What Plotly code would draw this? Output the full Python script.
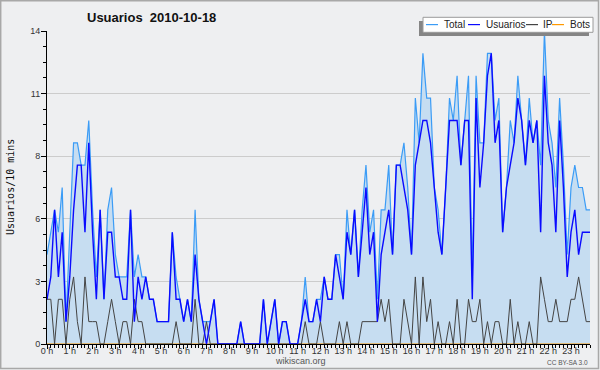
import plotly.graph_objects as go

# ---- data (10-minute slots, 0h00 .. 23h50) ----
usuarios = [2,3,6,3,5,1,3,6,8,8,
            5,9,5,2,6,2,5,5,3,3,
            2,2,6,1,3,2,3,2,2,1,
            1,1,1,5,2,2,1,2,1,4,
            2,1,0,1,2,0,0,0,0,0,
            0,1,0,0,0,0,0,2,0,1,
            2,0,1,1,0,0,0,1,2,1,
            1,2,1,3,2,2,4,3,2,5,
            4,6,3,5,7,4,5,1,4,5,
            6,4,8,8,7,6,4,8,9,10,
            10,9,7,5,4,7,10,10,10,8,
            10,10,2,11,7,9,12,13,9,10,
            5,7,8,9,11,10,8,10,9,10,
            5,12,9,8,5,10,7,3,5,6,
            4,5,5,5]
ip = [2,2,0,2,2,0,2,3,1,0,
      3,1,1,1,0,0,1,2,1,0,
      1,1,0,2,1,1,0,0,0,0,
      0,0,0,0,1,0,0,0,0,2,
      0,0,1,0,0,0,0,0,0,0,
      0,0,0,0,0,0,0,0,0,0,
      0,0,0,0,0,0,0,0,1,0,
      0,0,1,0,0,0,0,1,0,1,
      0,0,0,1,1,1,1,1,2,1,
      2,0,0,0,2,1,0,3,0,3,
      1,2,0,1,0,0,1,0,2,0,
      0,2,1,1,2,0,1,0,1,1,
      0,0,2,0,1,0,0,1,0,0,
      3,2,1,1,2,1,1,1,2,2,
      3,2,1,1]
total = [4,5,6,5,7,1,5,9,9,8,
         8,10,6,3,6,2,6,7,4,3,
         3,3,6,3,4,3,3,2,2,1,
         1,1,1,5,3,2,1,2,1,6,
         2,1,1,1,2,0,0,0,0,0,
         0,1,0,0,0,0,0,2,0,1,
         2,0,1,1,0,0,0,1,3,1,
         1,2,2,3,2,2,4,4,2,6,
         4,6,3,6,8,5,6,2,6,6,
         8,4,8,8,9,7,4,11,9,13,
         11,11,7,6,4,7,11,10,12,8,
         10,12,3,12,9,9,13,13,10,11,
         5,7,10,9,12,10,8,11,9,10,
         8,14,10,9,7,11,8,4,7,8,
         7,7,6,6]
bots = [0] * 144
slots = list(range(144))

hour_labels = [f"{h} h" for h in range(24)]
hour_slots = [h * 6 for h in range(24)]
y_tickvals = [0, 2.8, 5.6, 8.4, 11.2, 14]
y_ticktext = ["0", "3", "6", "8", "11", "14"]
legend_names = ["Total", "Usuarios", "IP", "Bots"]

C_TOTAL = "#3b9cf6"
C_FILL = "#c6ddf1"
C_USR = "#0a0aff"
C_IP = "#444444"
C_BOTS = "#ff9900"
BG = "#eeeff1"

W, H = 600, 370
L, R, T, B = 47, 10, 31, 26
PW, PH = W - L - R, H - T - B


def px(x):
    return (x - L) / PW


def py(y):
    return (H - B - y) / PH


fig = go.Figure()
fig.add_trace(go.Scatter(x=slots, y=total, mode="lines", name="Total",
                         line=dict(color=C_TOTAL, width=1.2),
                         fill="tozeroy", fillcolor=C_FILL, showlegend=False))
fig.add_trace(go.Scatter(x=slots, y=bots, mode="lines", name="Bots",
                         line=dict(color=C_BOTS, width=1), showlegend=False))
fig.add_trace(go.Scatter(x=slots, y=ip, mode="lines", name="IP",
                         line=dict(color=C_IP, width=1), showlegend=False))
fig.add_trace(go.Scatter(x=slots, y=usuarios, mode="lines", name="Usuarios",
                         line=dict(color=C_USR, width=1.4), showlegend=False))

tickfont = dict(family="Liberation Sans", size=9, color="#333333")
fig.update_xaxes(range=[0, 143], showgrid=False, zeroline=False,
                 showline=True, linecolor="black", linewidth=1,
                 ticks="outside", ticklen=4, tickcolor="black",
                 tickvals=hour_slots, ticktext=hour_labels, tickfont=tickfont,
                 ticklabelstandoff=-6,
                 minor=dict(dtick=1, tick0=0, ticks="outside", ticklen=3,
                            tickcolor="black", showgrid=False))
fig.update_yaxes(range=[0, 14], showgrid=True, gridcolor="#cccccc", gridwidth=1,
                 zeroline=False, showline=True, linecolor="black", linewidth=1,
                 ticks="outside", ticklen=5, tickcolor="black",
                 tickvals=y_tickvals, ticktext=y_ticktext, tickfont=tickfont,
                 ticklabelstandoff=-1,
                 minor=dict(dtick=0.7, tick0=0, ticks="outside", ticklen=3,
                            tickcolor="black", showgrid=False))

shapes = [
    # outer frame
    dict(type="rect", xref="paper", yref="paper", x0=px(0.7), x1=px(598.5),
         y0=py(368.5), y1=py(0.7), line=dict(color="#a8a8a8", width=1.5),
         layer="above"),
    # legend shadow + box
    dict(type="rect", xref="paper", yref="paper", x0=px(419), x1=px(589),
         y0=py(36), y1=py(21), fillcolor="#858585", line=dict(width=0),
         layer="above"),
    dict(type="rect", xref="paper", yref="paper", x0=px(423), x1=px(593),
         y0=py(32.3), y1=py(17.3), fillcolor="white",
         line=dict(color="#9a9a9a", width=1), layer="above"),
]
legend_colors = [C_TOTAL, C_USR, C_IP, C_BOTS]
legend_line_x = [(426, 438), (468, 480), (526, 538), (552, 564)]
legend_text_x = [442, 484, 541, 568]
annotations = []
for name, col, (a, b), tx in zip(legend_names, legend_colors, legend_line_x, legend_text_x):
    shapes.append(dict(type="line", xref="paper", yref="paper", x0=px(a), x1=px(b),
                       y0=py(24.6), y1=py(24.6), line=dict(color=col, width=1.2),
                       layer="above"))
    annotations.append(dict(xref="paper", yref="paper", x=px(tx), y=py(24.6),
                            xanchor="left", yanchor="middle", showarrow=False,
                            text=name, font=dict(family="Liberation Sans", size=10,
                                                 color="#222222")))

annotations += [
    dict(xref="paper", yref="paper", x=px(151), y=py(17), xanchor="center",
         yanchor="middle", showarrow=False, text="<b>Usuarios\u00a0 2010-10-18</b>",
         font=dict(family="Liberation Sans", size=13, color="#111111")),
    dict(xref="paper", yref="paper", x=px(10.5), y=py(187.5), xanchor="center",
         yanchor="middle", showarrow=False, text="Usuarios/10 mins", textangle=-90,
         font=dict(family="DejaVu Sans Mono", size=10, color="#111111")),
    dict(xref="paper", yref="paper", x=px(300), y=py(361), xanchor="center",
         yanchor="middle", showarrow=False, text="wikiscan.org",
         font=dict(family="Liberation Sans", size=9, color="#555555")),
    dict(xref="paper", yref="paper", x=px(590), y=py(362.5), xanchor="right",
         yanchor="middle", showarrow=False, text="CC BY-SA 3.0",
         font=dict(family="Liberation Sans", size=6.5, color="#555555")),
]

fig.update_layout(width=W, height=H, margin=dict(l=L, r=R, t=T, b=B, autoexpand=False),
                  paper_bgcolor=BG, plot_bgcolor=BG, showlegend=False,
                  shapes=shapes, annotations=annotations)

fig.write_html("out.html", config={"displayModeBar": False},
               post_script="document.body.style.margin='0';document.body.style.padding='0';")
